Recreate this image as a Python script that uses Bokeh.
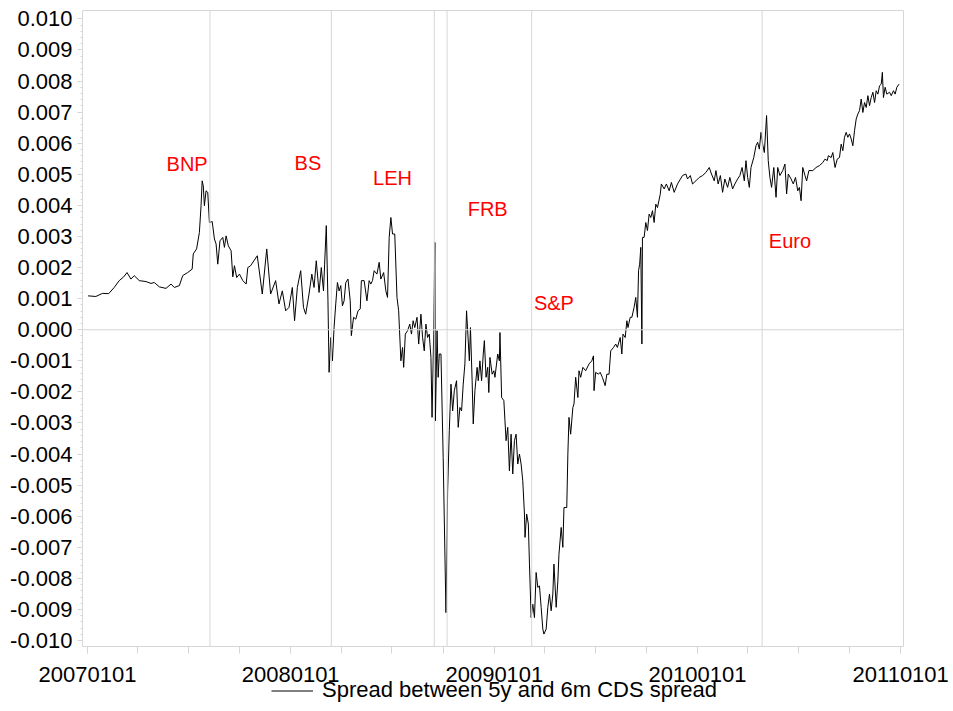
import pandas as pd
from bokeh.plotting import figure
from bokeh.layouts import column
from bokeh.models import (Range1d, FixedTicker, DatetimeTickFormatter, PrintfTickFormatter,
                          Span, Legend, LegendItem, ColumnDataSource)
from bokeh.core.properties import value
from bokeh.embed import file_html
from bokeh.resources import INLINE

# ---------------- data ----------------
series_start = "2007-01-01"
# days since 2007-01-01
day = [1, 15, 27, 38, 48, 57, 65, 71, 78, 84, 93, 105, 114, 120, 129, 141, 150, 156, 165, 171,
       180, 188, 190, 196, 201, 204, 206, 208, 210, 213, 216, 219, 224, 228, 231, 234, 238, 243, 246, 249,
       253, 258, 261, 264, 268, 273, 279, 285, 288, 293, 305, 314, 322, 329, 338, 344, 350, 356, 362, 368,
       372, 377, 383, 388, 392, 398, 403, 407, 411, 416, 420, 424, 426, 429, 432, 434, 437, 440, 443, 446,
       449, 452, 455, 458, 461, 464, 468, 472, 474, 478, 482, 486, 490, 492, 497, 502, 506, 509, 512, 515,
       520, 524, 527, 532, 536, 539, 542, 545, 548, 552, 556, 559, 563, 566, 568, 571, 575, 579, 582, 585,
       588, 592, 595, 599, 602, 605, 608, 611, 614, 617, 619, 622, 624, 625, 628, 630, 632, 635, 639, 644,
       647, 650, 653, 656, 659, 663, 666, 669, 672, 675, 678, 681, 686, 688, 691, 693, 696, 700, 702, 705,
       708, 711, 713, 716, 719, 721, 723, 727, 730, 732, 737, 740, 741, 744, 748, 750, 752, 755, 758, 761,
       764, 767, 770, 773, 776, 779, 782, 785, 786, 789, 792, 794, 797, 800, 803, 806, 809, 812, 815, 818,
       820, 824, 827, 830, 833, 836, 838, 842, 845, 847, 851, 854, 856, 861, 863, 865, 868, 872, 874, 877,
       881, 883, 886, 890, 895, 901, 906, 909, 910, 913, 918, 921, 925, 930, 933, 937, 940, 945, 949, 952,
       957, 960, 962, 966, 969, 971, 975, 978, 982, 985, 988, 990, 992, 994, 996, 997, 1000, 1003, 1006, 1009,
       1012, 1015, 1018, 1021, 1024, 1029, 1031, 1036, 1040, 1045, 1049, 1054, 1060, 1069, 1075, 1078, 1083, 1087, 1093, 1099,
       1105, 1111, 1117, 1121, 1126, 1129, 1133, 1137, 1141, 1145, 1150, 1154, 1159, 1163, 1168, 1172, 1176, 1180, 1183, 1186,
       1189, 1192, 1197, 1201, 1204, 1207, 1210, 1213, 1216, 1220, 1223, 1226, 1229, 1233, 1237, 1240, 1244, 1249, 1253, 1256,
       1259, 1264, 1268, 1272, 1276, 1279, 1282, 1285, 1289, 1292, 1296, 1303, 1309, 1315, 1321, 1325, 1329, 1331, 1336, 1339,
       1343, 1347, 1351, 1354, 1357, 1360, 1363, 1366, 1369, 1372, 1375, 1378, 1381, 1384, 1387, 1390, 1393, 1396, 1399, 1402,
       1405, 1408, 1411, 1414, 1417, 1420, 1423, 1426, 1428, 1430, 1433, 1436, 1441, 1444, 1448, 1451, 1454, 1458]

spread = [0.00109, 0.00107, 0.00117, 0.00116, 0.00136, 0.00158, 0.00170, 0.00184, 0.00163, 0.00174,
          0.00158, 0.00155, 0.00149, 0.00152, 0.00138, 0.00133, 0.00147, 0.00136, 0.00142, 0.00174,
          0.00184, 0.00195, 0.00244, 0.00260, 0.00313, 0.00399, 0.00479, 0.00463, 0.00399, 0.00447,
          0.00442, 0.00345, 0.00348, 0.00292, 0.00276, 0.00211, 0.00286, 0.00297, 0.00265, 0.00302,
          0.00270, 0.00254, 0.00170, 0.00206, 0.00168, 0.00179, 0.00158, 0.00147, 0.00200, 0.00206,
          0.00238, 0.00115, 0.00260, 0.00115, 0.00158, 0.00083, 0.00125, 0.00061, 0.00072, 0.00136,
          0.00029, 0.00136, 0.00190, 0.00072, 0.00050, 0.00115, 0.00179, 0.00136, 0.00222, 0.00120,
          0.00200, 0.00125, 0.00211, 0.00335, 0.00093, -0.00137, -0.00025, -0.00100, 0.00008, 0.00083,
          0.00152, 0.00125, 0.00142, 0.00077, 0.00093, 0.00152, 0.00163, 0.00093, -0.00019, 0.00040,
          0.00034, 0.00061, 0.00067, 0.00158, 0.00158, 0.00093, 0.00158, 0.00147, 0.00158, 0.00190,
          0.00179, 0.00217, 0.00163, 0.00184, 0.00125, 0.00104, 0.00297, 0.00361, 0.00308, 0.00308,
          0.00104, 0.00061, -0.00100, -0.00057, -0.00121, -0.00014, -0.00003, 0.00018, -0.00014, 0.00029,
          0.00007, 0.00040, -0.00046, 0.00050, -0.00025, -0.00068, 0.00018, -0.00025, -0.00014, -0.00089,
          -0.00282, -0.00003, 0.00281, -0.00293, -0.00003, -0.00153, -0.00078, -0.00078, -0.00411, -0.00910,
          -0.00518, -0.00325, -0.00175, -0.00261, -0.00196, -0.00164, -0.00314, -0.00250, -0.00261, -0.00175,
          -0.00110, 0.00061, -0.00100, 0.00007, -0.00164, -0.00303, -0.00196, -0.00121, -0.00164, -0.00100,
          -0.00164, -0.00078, -0.00035, -0.00153, -0.00121, -0.00202, -0.00089, -0.00143, -0.00132, -0.00153,
          -0.00078, -0.00100, -0.00009, -0.00218, -0.00228, -0.00293, -0.00357, -0.00314, -0.00454, -0.00336,
          -0.00464, -0.00357, -0.00336, -0.00432, -0.00400, -0.00432, -0.00486, -0.00593, -0.00668, -0.00593,
          -0.00625, -0.00754, -0.00926, -0.00883, -0.00926, -0.00781, -0.00829, -0.00824, -0.00893, -0.00963,
          -0.00979, -0.00963, -0.00893, -0.00850, -0.00904, -0.00850, -0.00754, -0.00893, -0.00808, -0.00722,
          -0.00636, -0.00700, -0.00572, -0.00572, -0.00400, -0.00282, -0.00336, -0.00250, -0.00239, -0.00153,
          -0.00218, -0.00132, -0.00153, -0.00121, -0.00132, -0.00110, -0.00100, -0.00084, -0.00196, -0.00137,
          -0.00143, -0.00137, -0.00153, -0.00180, -0.00143, -0.00143, -0.00068, -0.00057, -0.00046, -0.00057,
          -0.00025, -0.00078, -0.00014, -0.00025, 0.00029, 0.00007, 0.00040, 0.00040, 0.00072, 0.00104,
          0.00040, 0.00190, 0.00211, 0.00265, -0.00046, 0.00297, 0.00297, 0.00345, 0.00319, 0.00372,
          0.00361, 0.00383, 0.00345, 0.00404, 0.00393, 0.00436, 0.00469, 0.00453, 0.00469, 0.00447,
          0.00474, 0.00442, 0.00469, 0.00496, 0.00501, 0.00485, 0.00496, 0.00469, 0.00479, 0.00490,
          0.00496, 0.00506, 0.00522, 0.00501, 0.00479, 0.00512, 0.00469, 0.00496, 0.00442, 0.00485,
          0.00458, 0.00490, 0.00453, 0.00469, 0.00485, 0.00496, 0.00522, 0.00479, 0.00544, 0.00490,
          0.00458, 0.00522, 0.00554, 0.00592, 0.00603, 0.00581, 0.00635, 0.00597, 0.00570, 0.00689,
          0.00544, 0.00490, 0.00458, 0.00522, 0.00426, 0.00522, 0.00496, 0.00512, 0.00533, 0.00437,
          0.00501, 0.00485, 0.00469, 0.00490, 0.00447, 0.00458, 0.00415, 0.00522, 0.00496, 0.00479,
          0.00512, 0.00512, 0.00522, 0.00528, 0.00538, 0.00549, 0.00544, 0.00560, 0.00554, 0.00570,
          0.00522, 0.00549, 0.00554, 0.00597, 0.00576, 0.00619, 0.00635, 0.00619, 0.00630, 0.00614,
          0.00592, 0.00640, 0.00678, 0.00694, 0.00705, 0.00742, 0.00699, 0.00731, 0.00715, 0.00753,
          0.00721, 0.00747, 0.00764, 0.00731, 0.00769, 0.00758, 0.00785, 0.00790, 0.00828, 0.00747,
          0.00780, 0.00758, 0.00764, 0.00753, 0.00769, 0.00758, 0.00780, 0.00790]

series_name = "Spread between 5y and 6m CDS spread"

event_dates = ["2007-08-09", "2008-03-14", "2008-09-15", "2008-10-08", "2009-03-09", "2010-04-27"]
label_names = ["BNP", "BS", "LEH", "FRB", "S&P", "Euro"]
label_dates = ["2007-05-23", "2008-01-08", "2008-05-28", "2008-11-14", "2009-03-13", "2010-05-09"]
label_levels = [0.00534, 0.00538, 0.00489, 0.00389, 0.00087, 0.00287]

year_ticks = ["2007-01-01", "2008-01-01", "2009-01-01", "2010-01-01", "2011-01-01"]
quarter_ticks = ["2007-04-01", "2007-07-01", "2007-10-01", "2008-04-01", "2008-07-01", "2008-10-01",
                 "2009-04-01", "2009-07-01", "2009-10-01", "2010-04-01", "2010-07-01", "2010-10-01"]
y_ticks = [-0.010, -0.009, -0.008, -0.007, -0.006, -0.005, -0.004, -0.003, -0.002, -0.001, 0.0,
           0.001, 0.002, 0.003, 0.004, 0.005, 0.006, 0.007, 0.008, 0.009, 0.010]


def ms(s):
    return pd.Timestamp(s).value / 1e6


dates = pd.Timestamp(series_start) + pd.to_timedelta(day, unit="D")
src = ColumnDataSource(dict(date=dates, spread=spread))
lab = ColumnDataSource(dict(x=pd.to_datetime(label_dates), y=label_levels, text=label_names))

FONT = "Liberation Sans"
GRID = "#d6d6d6"

p = figure(frame_width=821, frame_height=636, x_axis_type="datetime",
           x_range=Range1d(ms("2006-12-23"), ms("2011-01-06")),
           y_range=Range1d(-0.01019, 0.01027),
           output_backend="svg", toolbar_location=None,
           min_border_left=82, min_border_top=10, min_border_right=50, min_border_bottom=45)
p.grid.visible = False
p.outline_line_color = GRID
p.background_fill_color = "white"
p.border_fill_color = "white"

# zero line and event lines
p.add_layout(Span(location=0, dimension="width", line_color=GRID, line_width=1))
for d in event_dates:
    p.add_layout(Span(location=ms(d), dimension="height", line_color=GRID, line_width=1))

r = p.line("date", "spread", source=src, line_color="black", line_width=1)

p.text(x="x", y="y", text="text", source=lab, text_color="#ff0000",
       text_font=value(FONT), text_font_size=value("20px"),
       text_align="left", text_baseline="alphabetic")

# axes
xa = p.xaxis[0]
xa.ticker = FixedTicker(ticks=[ms(t) for t in year_ticks],
                        minor_ticks=[ms(t) for t in quarter_ticks + year_ticks])
fmt = "%Y%m%d"
xa.formatter = DatetimeTickFormatter(years=fmt, months=fmt, days=fmt, hours=fmt, hourmin=fmt,
                                     minutes=fmt, minsec=fmt, seconds=fmt, milliseconds=fmt,
                                     microseconds=fmt)
xa.axis_line_color = None
xa.major_tick_line_color = GRID
xa.minor_tick_line_color = GRID
xa.major_tick_in = 0
xa.minor_tick_in = 0
xa.major_tick_out = 7
xa.minor_tick_out = 7
xa.major_label_standoff = 13
xa.major_label_text_font = FONT
xa.major_label_text_font_size = "22px"
xa.major_label_text_color = "black"

ya = p.yaxis[0]
minor_y = [round(-0.010 + i * 0.0002, 4) for i in range(101)]
ya.ticker = FixedTicker(ticks=y_ticks, minor_ticks=minor_y)
ya.formatter = PrintfTickFormatter(format="%.3f")
ya.axis_line_color = None
ya.major_tick_line_color = GRID
ya.minor_tick_line_color = GRID
ya.major_tick_in = 0
ya.minor_tick_in = 0
ya.major_tick_out = 5
ya.minor_tick_out = 2
ya.major_label_standoff = 5
ya.major_label_text_font = FONT
ya.major_label_text_font_size = "22px"
ya.major_label_text_color = "black"

# legend strip below the axis (its frame is aligned with the main frame by the column)
pl = figure(width=953, height=28, x_range=Range1d(0, 1), y_range=Range1d(0, 1),
            output_backend="svg", toolbar_location=None,
            x_axis_location=None, y_axis_location=None,
            min_border_left=0, min_border_right=0, min_border_top=0, min_border_bottom=0,
            styles={"margin-top": "-13px"})
pl.grid.visible = False
pl.outline_line_color = None
pl.background_fill_alpha = 0
pl.border_fill_alpha = 0
key = pl.line("date", "spread", source=src, line_color="black", line_width=1)
legend = Legend(items=[LegendItem(label=series_name, renderers=[key])], location=(189, 3),
                orientation="horizontal", border_line_color=None, background_fill_alpha=0,
                padding=0, margin=0, spacing=0, glyph_width=42, glyph_height=21,
                label_standoff=9, label_height=21,
                label_text_font=FONT, label_text_font_size="22px", label_text_color="black")
pl.add_layout(legend, "center")

layout = column(p, pl, spacing=0)
open("out.html", "w").write(file_html(layout, INLINE))
